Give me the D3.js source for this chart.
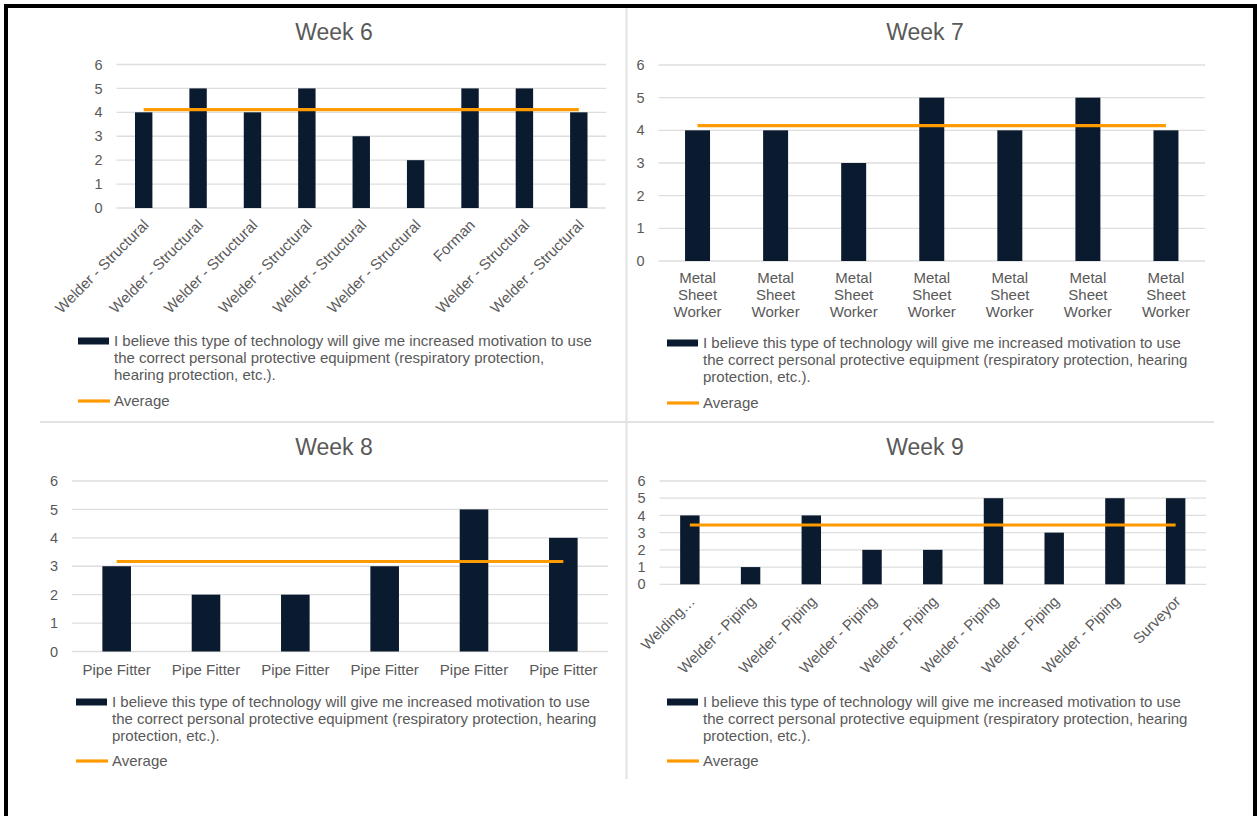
<!DOCTYPE html>
<html>
<head>
<meta charset="utf-8">
<script src="https://cdn.jsdelivr.net/npm/d3@7"></script>
<style>
  html, body { margin: 0; padding: 0; background: #fff; }
  svg { display: block; }
  text { font-family: "Liberation Sans", Arial, sans-serif; fill: #595959; }
</style>
</head>
<body>
<svg id="chart" width="1257" height="816"></svg>
<script>
// Survey responses per week: job role of each respondent and their score (0–6 scale)
const week6Roles = ["Welder - Structural", "Welder - Structural", "Welder - Structural", "Welder - Structural",
  "Welder - Structural", "Welder - Structural", "Forman", "Welder - Structural", "Welder - Structural"];
const week6Scores = [4, 5, 4, 5, 3, 2, 5, 5, 4];

const week7Roles = ["Metal Sheet Worker", "Metal Sheet Worker", "Metal Sheet Worker", "Metal Sheet Worker",
  "Metal Sheet Worker", "Metal Sheet Worker", "Metal Sheet Worker"];
const week7Scores = [4, 4, 3, 5, 4, 5, 4];

const week8Roles = ["Pipe Fitter", "Pipe Fitter", "Pipe Fitter", "Pipe Fitter", "Pipe Fitter", "Pipe Fitter"];
const week8Scores = [3, 2, 2, 3, 5, 4];

const week9Roles = ["Welding…", "Welder - Piping", "Welder - Piping", "Welder - Piping", "Welder - Piping",
  "Welder - Piping", "Welder - Piping", "Welder - Piping", "Surveyor"];
const week9Scores = [4, 1, 4, 2, 2, 5, 3, 5, 5];

const yTicks = [0, 1, 2, 3, 4, 5, 6];

const statementWrapA = [
  "I believe this type of technology will give me increased motivation to use",
  "the correct personal protective equipment (respiratory protection,",
  "hearing protection, etc.)."
];
const statementWrapB = [
  "I believe this type of technology will give me increased motivation to use",
  "the correct personal protective equipment (respiratory protection, hearing",
  "protection, etc.)."
];
const averageLabel = "Average";

const BAR = "#0b1b2f";
const AVG = "#ff9a00";
const GRID = "#dedede";
const FONT = "15px";

// Layout of each of the four charts
const panels = [
  { title: "Week 6", roles: week6Roles, scores: week6Scores, labelMode: "rotated",
    titleX: 334, titleY: 32, x0: 116.5, x1: 606, yTop: 64.5, yBot: 208,
    legX: 78, legTextX: 114, legY: 341, legAvgY: 401, legend: statementWrapA },
  { title: "Week 7", roles: week7Roles, scores: week7Scores, labelMode: "wrap",
    titleX: 925, titleY: 32, x0: 658.5, x1: 1205, yTop: 65, yBot: 261,
    legX: 667, legTextX: 703, legY: 343, legAvgY: 403, legend: statementWrapB },
  { title: "Week 8", roles: week8Roles, scores: week8Scores, labelMode: "flat",
    titleX: 334, titleY: 447, x0: 72, x1: 608, yTop: 481, yBot: 651.5,
    legX: 76, legTextX: 112, legY: 702, legAvgY: 761, legend: statementWrapB },
  { title: "Week 9", roles: week9Roles, scores: week9Scores, labelMode: "rotated",
    titleX: 925, titleY: 447, x0: 659.5, x1: 1206, yTop: 481, yBot: 584.3,
    legX: 667, legTextX: 703, legY: 702, legAvgY: 761, legend: statementWrapB }
];

const svg = d3.select("#chart");

// outer frame (left, top, right edges)
svg.append("rect").attr("x", 4).attr("y", 4).attr("width", 1249).attr("height", 4).attr("fill", "#000");
svg.append("rect").attr("x", 4).attr("y", 4).attr("width", 4).attr("height", 812).attr("fill", "#000");
svg.append("rect").attr("x", 1253).attr("y", 4).attr("width", 4).attr("height", 812).attr("fill", "#000");

// dividers between the four charts
svg.append("line").attr("x1", 626.5).attr("x2", 626.5).attr("y1", 8).attr("y2", 779)
  .attr("stroke", "#e2e2e2").attr("stroke-width", 2);
svg.append("line").attr("x1", 40).attr("x2", 1214).attr("y1", 422).attr("y2", 422)
  .attr("stroke", "#e2e2e2").attr("stroke-width", 2);

panels.forEach(p => {
  const g = svg.append("g");
  const idx = d3.range(p.scores.length);

  const x = d3.scaleBand().domain(idx).range([p.x0, p.x1])
    .paddingInner(0.68).paddingOuter(0.34);
  const y = d3.scaleLinear().domain([0, 6]).range([p.yBot, p.yTop]);
  const cx = i => x(i) + x.bandwidth() / 2;

  // title
  g.append("text").attr("x", p.titleX).attr("y", p.titleY).attr("dy", "0.35em")
    .attr("text-anchor", "middle").style("font-size", "23px").text(p.title);

  // gridlines
  g.selectAll("line.grid").data(yTicks).join("line")
    .attr("x1", p.x0).attr("x2", p.x1)
    .attr("y1", d => y(d)).attr("y2", d => y(d))
    .attr("stroke", GRID).attr("stroke-width", 1.3);

  // y axis labels
  const ya = g.append("g").attr("transform", `translate(${p.x0},0)`)
    .call(d3.axisLeft(y).tickValues(yTicks).tickSize(0).tickPadding(14).tickFormat(d3.format("d")));
  ya.select(".domain").remove();
  ya.selectAll("text").style("font-size", "14.5px").style("fill", "#595959")
    .style("font-family", "'Liberation Sans', Arial, sans-serif");

  // bars
  g.selectAll("rect.bar").data(p.scores).join("rect")
    .attr("x", (d, i) => x(i)).attr("width", x.bandwidth())
    .attr("y", d => y(d)).attr("height", d => y(0) - y(d))
    .attr("fill", BAR);

  // average line across the categories
  const avg = d3.mean(p.scores);
  g.append("path")
    .datum(idx)
    .attr("d", d3.line().x(i => cx(i)).y(() => y(avg)))
    .attr("fill", "none").attr("stroke", AVG).attr("stroke-width", 3.2);

  // category labels
  const lab = g.selectAll("text.cat").data(p.roles).join("text")
    .style("font-size", FONT);
  if (p.labelMode === "rotated") {
    lab.attr("text-anchor", "end")
      .attr("transform", (d, i) => `translate(${cx(i) + 6},${p.yBot + 18}) rotate(-45)`)
      .text(d => d);
  } else if (p.labelMode === "flat") {
    lab.attr("text-anchor", "middle").attr("x", (d, i) => cx(i)).attr("y", p.yBot + 18)
      .attr("dy", "0.35em").text(d => d);
  } else {
    lab.attr("text-anchor", "middle").each(function (d, i) {
      const words = d.split(" ");
      d3.select(this).selectAll("tspan").data(words).join("tspan")
        .attr("x", cx(i)).attr("y", (w, k) => p.yBot + 17 + k * 17)
        .attr("dy", "0.35em").text(w => w);
    });
  }

  // legend
  g.append("rect").attr("x", p.legX).attr("y", p.legY - 3.5).attr("width", 31).attr("height", 7)
    .attr("fill", BAR);
  g.append("text").style("font-size", FONT).selectAll("tspan").data(p.legend).join("tspan")
    .attr("x", p.legTextX).attr("y", (d, k) => p.legY + k * 17).attr("dy", "0.35em").text(d => d);
  g.append("line").attr("x1", p.legX).attr("x2", p.legX + 32).attr("y1", p.legAvgY).attr("y2", p.legAvgY)
    .attr("stroke", AVG).attr("stroke-width", 3.2);
  g.append("text").style("font-size", FONT).attr("x", p.legTextX).attr("y", p.legAvgY)
    .attr("dy", "0.35em").text(averageLabel);
});
</script>
</body>
</html>
